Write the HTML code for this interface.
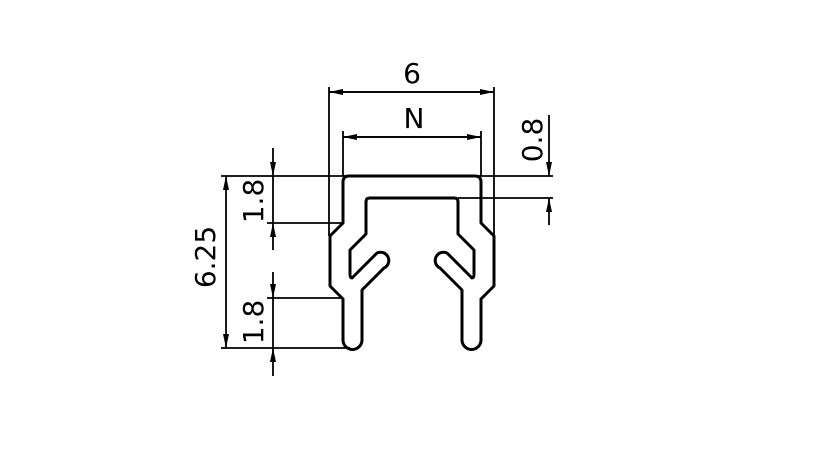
<!DOCTYPE html>
<html><head><style>html,body{margin:0;padding:0;background:#fff}svg{display:block}</style></head><body>
<svg width="827" height="472" viewBox="0 0 827 472" xmlns="http://www.w3.org/2000/svg">
<defs>
<marker id="a" viewBox="0 0 14 7" refX="14" refY="3.5" markerWidth="14" markerHeight="7" orient="auto" markerUnits="userSpaceOnUse"><path d="M0,0.5 L14,3.5 L0,6.5 Z" fill="#000"/></marker>
</defs>
<g stroke="#000" stroke-width="1.8" fill="none">
<line x1="329" y1="87" x2="329" y2="236"/>
<line x1="494" y1="87" x2="494" y2="236"/>
<line x1="343" y1="131" x2="343" y2="176"/>
<line x1="481" y1="131" x2="481" y2="176"/>
<line x1="221" y1="176" x2="553" y2="176"/>
<line x1="458" y1="198" x2="553" y2="198"/>
<line x1="267" y1="223" x2="343" y2="223"/>
<line x1="267" y1="298" x2="343" y2="298"/>
<line x1="221" y1="348" x2="350" y2="348"/>
<line x1="494" y1="92" x2="329" y2="92" marker-end="url(#a)"/>
<line x1="329" y1="92" x2="494" y2="92" marker-end="url(#a)"/>
<line x1="481" y1="137" x2="343" y2="137" marker-end="url(#a)"/>
<line x1="343" y1="137" x2="481" y2="137" marker-end="url(#a)"/>
<line x1="549" y1="115" x2="549" y2="176" marker-end="url(#a)"/>
<line x1="549" y1="225" x2="549" y2="198" marker-end="url(#a)"/>
<line x1="273" y1="148" x2="273" y2="176" marker-end="url(#a)"/>
<line x1="273" y1="176" x2="273" y2="223"/>
<line x1="273" y1="250" x2="273" y2="223" marker-end="url(#a)"/>
<line x1="273" y1="272" x2="273" y2="298" marker-end="url(#a)"/>
<line x1="273" y1="298" x2="273" y2="348"/>
<line x1="273" y1="376" x2="273" y2="348" marker-end="url(#a)"/>
<line x1="226" y1="262" x2="226" y2="176" marker-end="url(#a)"/>
<line x1="226" y1="262" x2="226" y2="348" marker-end="url(#a)"/>
</g>
<path d="M343,182 Q343,176 349,176 L475,176 Q481,176 481,182 L481,223 L494,236 L494,286 L481,299 L481,340 A9.5,9.5 0 0 1 462,340 L462,290 L440,268 A7.8,7.8 0 0 1 447,253 L472,278 Q474,278 474,274 L474,250 L458,234 L458,202 Q458,198 454,198 L370,198 Q366,198 366,202 L366,234 L350,250 L350,274 Q350,278 352,278 L377,253 A7.8,7.8 0 0 1 384,268 L362,290 L362,340 A9.5,9.5 0 0 1 343,340 L343,299 L330,286 L330,236 L343,223 Z" fill="none" stroke="#000" stroke-width="3" stroke-linejoin="round"/>
<g font-family="DejaVu Sans, Liberation Sans, sans-serif" font-size="28" fill="#000" text-anchor="middle">
<text x="412" y="83">6</text>
<text x="414" y="128">N</text>
<text transform="translate(542,140) rotate(-90)">0.8</text>
<text transform="translate(263,201) rotate(-90)">1.8</text>
<text transform="translate(263,322) rotate(-90)">1.8</text>
<text transform="translate(215,257) rotate(-90)">6.25</text>
</g>
</svg>
</body></html>
